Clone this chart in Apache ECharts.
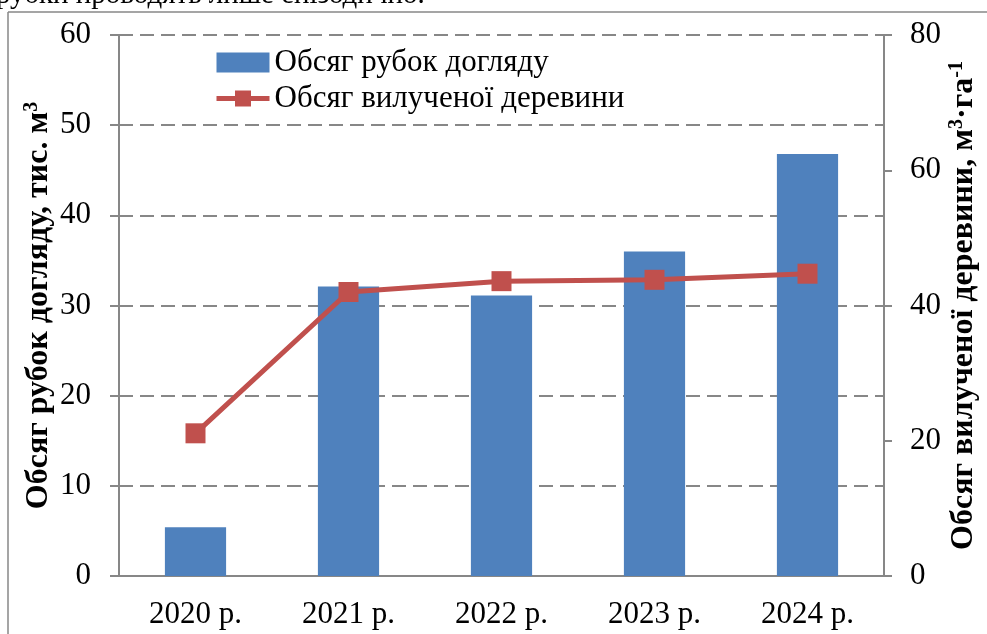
<!DOCTYPE html>
<html>
<head>
<meta charset="utf-8">
<script src="https://cdn.jsdelivr.net/npm/echarts@6/dist/echarts.min.js"></script>
<style>
	html, body { margin: 0; padding: 0; background: #fff; }
	#chart { width: 987px; height: 634px; }
</style>
</head>
<body>
<div id="chart"></div>
<script>
const years = ["2020 р.", "2021 р.", "2022 р.", "2023 р.", "2024 р."];
// обсяг рубок догляду, тис. м3
const thinningVolume = [5.4, 32.1, 31.1, 36.0, 46.8];
// обсяг вилученої деревини, м3/га
const removedWood = [21.1, 42.0, 43.6, 43.8, 44.7];
const leftTicks = [0, 10, 20, 30, 40, 50, 60];
const rightTicks = [0, 20, 40, 60, 80];

const FONT = '"Liberation Serif", "Times New Roman", serif';
const GRAY = "#878787";

const chart = echarts.init(document.getElementById("chart"));

const supRich = {
	sup: { fontSize: 20, fontWeight: "bold", fontFamily: FONT, color: "#000", verticalAlign: "top", lineHeight: 34 },
	b: { fontSize: 32, fontWeight: "bold", fontFamily: FONT, color: "#000", lineHeight: 34 },
};

const option = {
	animation: false,
	textStyle: { fontFamily: FONT },
	graphic: [
		{
			type: "text",
			left: -4,
			top: -19,
			style: { text: "рубки проводять лише епізодично.", font: "29px " + FONT, fill: "#000" },
		},
		{ type: "line", shape: { x1: 8, y1: 12, x2: 987, y2: 12 }, style: { stroke: GRAY, lineWidth: 1.5 } },
		{ type: "line", shape: { x1: 8, y1: 12, x2: 8, y2: 634 }, style: { stroke: GRAY, lineWidth: 1.5 } },
	],
	grid: { left: 119, right: 103, top: 35, bottom: 58, outerBoundsMode: "none", containLabel: false },
	legend: {
		orient: "vertical",
		left: 214,
		top: 47,
		padding: 0,
		itemWidth: 53,
		itemHeight: 20,
		itemGap: 5,
		textStyle: { fontSize: 31, fontFamily: FONT, color: "#000" },
		data: [
			{ name: "Обсяг рубок догляду", icon: "rect" },
			{ name: "Обсяг вилученої деревини", lineStyle: { width: 5 } },
		],
	},
	xAxis: {
		type: "category",
		data: years,
		axisLine: { lineStyle: { color: GRAY, width: 2 } },
		axisTick: { length: 8, lineStyle: { color: GRAY, width: 2 } },
		axisLabel: { fontSize: 31, fontFamily: FONT, color: "#000", margin: 23 },
	},
	yAxis: [
		{
			type: "value",
			min: leftTicks[0],
			max: leftTicks[leftTicks.length - 1],
			interval: 10,
			name: "{b|Обсяг рубок догляду, тис. м}{sup|3}",
			nameLocation: "middle",
			nameGap: 63,
			nameMoveOverlap: false,
			nameTextStyle: { rich: supRich },
			axisLine: { show: true, lineStyle: { color: GRAY, width: 2 } },
			axisTick: { show: true, length: 9, lineStyle: { color: GRAY, width: 2 } },
			axisLabel: { fontSize: 31, fontFamily: FONT, color: "#000", margin: 28 },
			splitLine: { lineStyle: { color: GRAY, width: 2, type: [14, 7] } },
		},
		{
			type: "value",
			position: "right",
			min: rightTicks[0],
			max: rightTicks[rightTicks.length - 1],
			interval: 20,
			name: "{b|Обсяг вилученої деревини, м}{sup|3}{b|·га}{sup|-1}",
			nameLocation: "middle",
			nameGap: 63,
			nameMoveOverlap: false,
			nameTextStyle: { rich: supRich },
			axisLine: { show: true, lineStyle: { color: GRAY, width: 2 } },
			axisTick: { show: true, length: 8, lineStyle: { color: GRAY, width: 2 } },
			axisLabel: { fontSize: 31, fontFamily: FONT, color: "#000", margin: 26 },
			splitLine: { show: false },
		},
	],
	series: [
		{
			name: "Обсяг рубок догляду",
			type: "bar",
			yAxisIndex: 0,
			data: thinningVolume,
			barWidth: "40%",
			itemStyle: { color: "#4F81BD" },
		},
		{
			name: "Обсяг вилученої деревини",
			type: "line",
			yAxisIndex: 1,
			data: removedWood,
			symbol: "rect",
			symbolSize: 20,
			lineStyle: { color: "#C0504D", width: 5 },
			itemStyle: { color: "#C0504D" },
		},
	],
};

option && chart.setOption(option);
</script>
</body>
</html>
